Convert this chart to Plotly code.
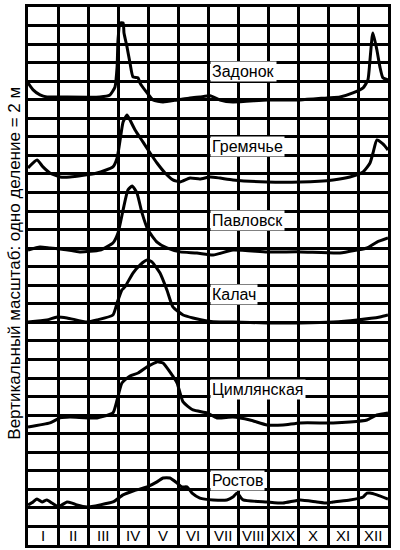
import plotly.graph_objects as go

# roman month labels on the bottom row (as printed)
months = ["I", "II", "III", "IV", "V", "VI", "VII", "VIII", "XIX", "X", "XI", "XII"]

# time in months from 1 Jan, water level in grid divisions (1 division = 2 m)
zadonok_t = [0, 0.17, 0.4, 0.63, 1.07, 2.4, 2.73, 2.9, 2.97, 3.0, 3.07, 3.17, 3.2, 3.3, 3.4, 3.5,
             3.67, 3.73, 3.97, 4.17, 4.5, 4.97, 5.4, 5.73, 6.07, 6.4, 6.83, 7.97, 9.07, 9.97,
             10.4, 10.83, 11.17, 11.33, 11.4, 11.47, 11.5, 11.63, 11.73, 11.83, 12]
zadonok_h = [24.91, 24.53, 24.26, 24.15, 24.15, 24.15, 24.26, 24.69, 25.77, 27.22, 28.14, 28.14,
             27.6, 26.85, 25.98, 25.23, 25.18, 24.91, 24.37, 23.99, 23.88, 23.99, 24.1, 24.15,
             24.21, 23.99, 23.88, 23.99, 23.99, 24.1, 24.15, 24.37, 24.64, 25.07, 26.15, 27.39,
             27.6, 26.68, 25.77, 25.18, 25.07]

gremyachye_t = [0, 0.3, 0.5, 0.73, 1.07, 1.4, 2.3, 2.83, 2.97, 3.07, 3.17, 3.3, 3.4, 3.57, 3.83,
                4.07, 4.3, 4.57, 4.83, 5.07, 5.4, 5.73, 6.07, 6.4, 6.83, 7.97, 9.07, 10.17, 10.73,
                11.17, 11.4, 11.5, 11.63, 11.83, 12]
gremyachye_h = [20.32, 20.75, 20.38, 20.05, 19.84, 19.84, 20.05, 20.38, 20.86, 21.83, 22.8, 23.18,
                22.91, 22.37, 21.73, 21.13, 20.59, 20.05, 19.68, 19.57, 19.78, 19.73, 19.84, 19.78,
                19.68, 19.57, 19.57, 19.68, 19.84, 20.11, 20.59, 21.13, 21.83, 21.62, 21.29]

pavlovsk_t = [0, 0.4, 0.73, 1.07, 1.73, 2.4, 2.83, 3.0, 3.17, 3.33, 3.47, 3.63, 3.8, 4.0, 4.3,
              4.63, 5.07, 5.63, 6.17, 6.83, 7.97, 9.07, 10.4, 10.97, 11.3, 11.63, 12]
pavlovsk_h = [15.9, 16.06, 16.01, 15.96, 15.8, 15.9, 16.28, 16.82, 18.06, 19.14, 19.35, 18.98,
              17.9, 16.98, 16.33, 16.01, 15.8, 15.74, 15.63, 15.9, 15.8, 15.8, 15.74, 15.9,
              16.01, 16.33, 16.55]

kalach_t = [0, 0.63, 0.97, 1.3, 1.97, 2.3, 2.83, 2.97, 3.13, 3.23, 3.5, 3.73, 3.97, 4.13, 4.4,
            4.63, 4.83, 5.17, 5.5, 5.97, 6.4, 6.83, 7.97, 9.07, 10.17, 10.97, 11.73, 12]
kalach_h = [12.02, 12.13, 12.29, 12.24, 12.02, 12.13, 12.4, 13.05, 13.75, 13.91, 14.66, 15.09,
            15.36, 15.26, 14.66, 13.75, 12.83, 12.4, 12.24, 12.08, 12.02, 12.02, 11.97, 11.97,
            12.02, 12.13, 12.29, 12.4]

tsimlyansk_t = [0, 0.73, 1.07, 1.4, 2.3, 2.83, 2.97, 3.13, 3.4, 3.67, 3.97, 4.3, 4.5, 4.73, 4.97,
                5.17, 5.5, 5.97, 6.3, 6.83, 7.4, 7.97, 8.5, 9.07, 10.17, 10.73, 11.3, 11.63, 12]
tsimlyansk_h = [6.36, 6.58, 6.85, 6.9, 6.85, 7.12, 7.82, 8.73, 9.11, 9.27, 9.6, 9.87, 9.81, 9.33,
                8.73, 7.71, 7.28, 7.12, 6.85, 6.9, 6.74, 6.47, 6.47, 6.58, 6.58, 6.63, 6.74,
                7.01, 7.12]

rostov_t = [0, 0.17, 0.3, 0.47, 0.63, 0.8, 0.9, 1.0, 1.13, 1.3, 1.47, 1.63, 1.97, 2.4, 2.83, 3.17,
            3.5, 3.97, 4.3, 4.5, 4.73, 4.97, 5.13, 5.3, 5.47, 5.73, 6.17, 6.63, 6.83, 6.97, 7.17,
            7.97, 8.5, 9.07, 9.63, 9.97, 10.17, 10.73, 11.17, 11.3, 11.4, 11.63, 12]
rostov_h = [2.16, 2.32, 2.48, 2.32, 2.43, 2.26, 2.16, 2.05, 2.16, 2.32, 2.26, 2.16, 2.05, 2.16,
            2.32, 2.7, 2.91, 3.13, 3.4, 3.61, 3.61, 3.34, 3.13, 3.13, 2.8, 2.53, 2.43, 2.43, 2.59,
            2.8, 2.43, 2.32, 2.26, 2.43, 2.32, 2.26, 2.32, 2.43, 2.59, 2.8, 2.8, 2.7, 2.48]

stations = ["Задонок", "Гремячье", "Павловск", "Калач", "Цимлянская", "Ростов"]
series = [(zadonok_t, zadonok_h), (gremyachye_t, gremyachye_h), (pavlovsk_t, pavlovsk_h),
          (kalach_t, kalach_h), (tsimlyansk_t, tsimlyansk_h), (rostov_t, rostov_h)]

fig = go.Figure()
for name, (t, h) in zip(stations, series):
    fig.add_trace(go.Scatter(x=t, y=h, mode="lines", name=name,
                             line=dict(color="black", width=3, shape="spline", smoothing=0.5)))

# station names sit in a row of the grid, left edge just after the VI/VII line
label_y = [25.5, 21.5, 17.5, 13.5, 8.4, 3.5]
for name, y in zip(stations, label_y):
    fig.add_annotation(x=6.05, y=y, text=name, showarrow=False, xanchor="left",
                       bgcolor="white", borderpad=1,
                       font=dict(family="Liberation Sans", size=16, color="black"))

for i, m in enumerate(months):
    fig.add_annotation(x=i + 0.5, y=0.5, text=m, showarrow=False, yanchor="middle",
                       font=dict(family="Liberation Sans", size=15, color="black"))

fig.add_annotation(xref="paper", yref="paper", x=-0.04, y=0.524, textangle=-90,
                   xanchor="center", yanchor="middle",
                   text="Вертикальный масштаб: одно деление = 2 м", showarrow=False,
                   font=dict(family="Liberation Sans", size=17, color="black"))

axis_style = dict(showgrid=True, gridcolor="black", gridwidth=3, dtick=1, zeroline=False,
                  showticklabels=False, ticks="", showline=True, linecolor="black",
                  linewidth=3, mirror=True, fixedrange=True)
fig.update_xaxes(range=[0, 12], **axis_style)
fig.update_yaxes(range=[0, 29], **axis_style)

fig.update_layout(width=400, height=550, showlegend=False,
                  margin=dict(l=28, r=12, t=7, b=5),
                  paper_bgcolor="white", plot_bgcolor="white")

# page body has a default 8px margin; drop it so the figure sits at the window corner
fig.write_html("out.html", config={"displayModeBar": False},
               post_script="document.body.style.margin='0';")
